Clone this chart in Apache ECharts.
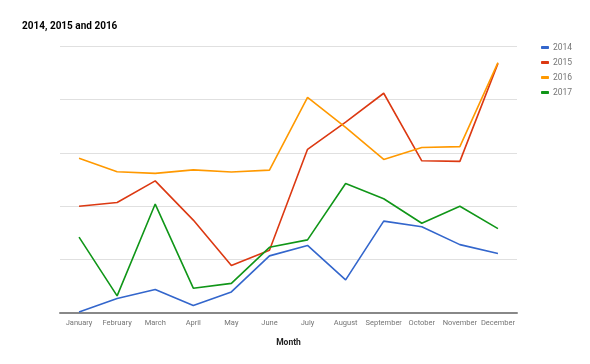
<!DOCTYPE html>
<html>
<head>
<meta charset="utf-8">
<script src="https://cdn.jsdelivr.net/npm/echarts@6/dist/echarts.min.js"></script>
<style>html,body{margin:0;padding:0;background:#fff}#c{width:590px;height:364px}</style>
</head>
<body>
<div id="c"></div>
<script>
const months = ["January","February","March","April","May","June","July","August","September","October","November","December"];
const s2014 = [0.4, 5.4, 8.8, 2.8, 7.9, 21.4, 25.3, 12.4, 34.4, 32.3, 25.6, 22.3];
const s2015 = [40.0, 41.4, 49.5, 34.8, 17.8, 23.5, 61.3, 71.5, 82.3, 57.0, 56.8, 93.5];
const s2016 = [58.0, 52.9, 52.3, 53.6, 52.8, 53.5, 80.8, 69.5, 57.5, 62.0, 62.3, 93.8];
const s2017 = [28.4, 6.4, 40.8, 9.3, 11.1, 24.6, 27.4, 48.5, 42.8, 33.6, 40.0, 31.6];
const seriesNames = ["2014","2015","2016","2017"];
const colors = ["#3366cc","#dc3912","#ff9900","#109618"];

const chart = echarts.init(document.getElementById('c'), null, {renderer:'canvas'});
const data = [s2014, s2015, s2016, s2017];
chart.setOption({
  animation: false,
  color: colors,
  title: {
    text: "2014, 2015 and 2016",
    left: 17, top: 16,
    textStyle: {fontFamily: "Roboto", fontSize: 10, fontWeight: "bold", color: "#000"}
  },
  legend: {
    orient: "vertical",
    left: 536, top: 38,
    itemWidth: 8, itemHeight: 3, itemGap: 6,
    icon: "roundRect",
    textStyle: {fontFamily: "Roboto", fontSize: 8.5, color: "#757575", padding: [0,0,0,-1]},
    data: seriesNames
  },
  grid: {left: 60, right: 73, top: 46, bottom: 51, containLabel: false},
  xAxis: {
    type: "category",
    data: months,
    boundaryGap: true,
    name: "Month",
    nameLocation: "middle",
    nameGap: 25,
    nameTextStyle: {fontFamily: "Roboto", fontSize: 8.5, color: "#222", fontWeight: "bold"},
    axisLine: {lineStyle: {color: "#888", width: 2}},
    axisTick: {show: false},
    axisLabel: {fontFamily: "Roboto", fontSize: 7.5, color: "#757575", margin: 6, interval: 0}
  },
  yAxis: {
    type: "value",
    min: 0, max: 100, interval: 20,
    axisLine: {show: false},
    axisTick: {show: false},
    axisLabel: {show: false},
    splitLine: {lineStyle: {color: "#e0e0e0", width: 1}}
  },
  series: seriesNames.map((n, i) => ({
    name: n,
    type: "line",
    data: data[i],
    symbol: "none",
    lineStyle: {width: 1.6, color: colors[i]},
    itemStyle: {color: colors[i]}
  }))
});
</script>
</body>
</html>
